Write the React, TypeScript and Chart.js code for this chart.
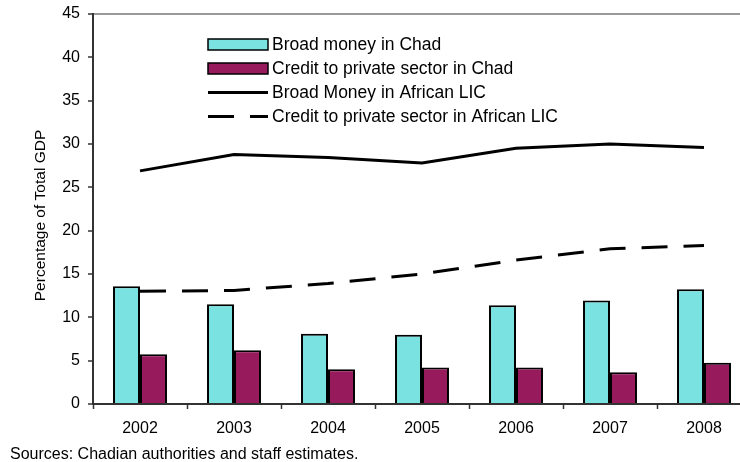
import React, { useEffect, useRef } from "react";
import { Chart, registerables } from "chart.js";

Chart.register(...registerables);

const years = ["2002", "2003", "2004", "2005", "2006", "2007", "2008"];
const broadMoneyChad = [13.6, 11.5, 8.1, 8.0, 11.4, 11.95, 13.25];
const creditChad = [5.75, 6.2, 4.0, 4.2, 4.2, 3.65, 4.75];
const broadMoneyLIC = [26.9, 28.8, 28.45, 27.8, 29.5, 30.0, 29.6];
const creditLIC = [13.0, 13.1, 13.9, 15.0, 16.6, 17.9, 18.3];

const yTicks = [0, 5, 10, 15, 20, 25, 30, 35, 40, 45];
const yAxisTitle = "Percentage of Total GDP";
const sourceNote = "Sources: Chadian authorities and staff estimates.";

const FONT = '"Liberation Sans", Arial, Helvetica, sans-serif';
const CYAN = "#7ae2e0";
const PURPLE = "#961a5c";
const DASH = [26, 16];

// Legend box, y-axis title and source line drawn straight onto the canvas
const overlayPlugin = {
  id: "overlay",
  afterDraw(chart: any) {
    const ctx = chart.ctx as CanvasRenderingContext2D;
    ctx.save();

    // legend inside the plot area
    const lx = 208;
    const lw = 60;
    chart.data.datasets.forEach((ds: any, i: number) => {
      const y = 44.5 + i * 24;
      if (ds.type === "line") {
        ctx.save();
        ctx.beginPath();
        ctx.rect(lx, y - 4, lw, 8);
        ctx.clip();
        ctx.strokeStyle = ds.borderColor;
        ctx.lineWidth = ds.borderWidth;
        ctx.setLineDash(ds.borderDash || []);
        ctx.beginPath();
        ctx.moveTo(lx, y);
        ctx.lineTo(lx + lw + 20, y);
        ctx.stroke();
        ctx.restore();
      } else {
        ctx.fillStyle = ds.backgroundColor;
        ctx.fillRect(lx, y - 5.5, lw, 11);
        ctx.strokeStyle = "#000";
        ctx.lineWidth = 1.5;
        ctx.strokeRect(lx, y - 5.5, lw, 11);
      }
      ctx.fillStyle = "#000";
      ctx.font = `17.5px ${FONT}`;
      ctx.textAlign = "left";
      ctx.textBaseline = "middle";
      ctx.fillText(ds.label, 272, y + 0.5);
    });

    // rotated y-axis title
    ctx.save();
    ctx.translate(41, 215.5);
    ctx.rotate(-Math.PI / 2);
    ctx.font = `15.5px ${FONT}`;
    ctx.fillStyle = "#000";
    ctx.textAlign = "center";
    ctx.textBaseline = "middle";
    ctx.fillText(yAxisTitle, 0, 0);
    ctx.restore();

    // source line
    ctx.font = `16px ${FONT}`;
    ctx.fillStyle = "#000";
    ctx.textAlign = "left";
    ctx.textBaseline = "alphabetic";
    ctx.fillText(sourceNote, 10, 459);

    ctx.restore();
  },
};

export default function App() {
  const canvasRef = useRef<HTMLCanvasElement | null>(null);

  useEffect(() => {
    if (!canvasRef.current) return;
    const chart = new Chart(canvasRef.current, {
      type: "bar",
      data: {
        labels: years,
        datasets: [
          {
            type: "bar",
            label: "Broad money in Chad",
            data: broadMoneyChad,
            backgroundColor: CYAN,
            borderColor: "#000",
            borderWidth: 2,
            categoryPercentage: 0.574,
            barPercentage: 1,
            order: 1,
          },
          {
            type: "bar",
            label: "Credit to private sector in Chad",
            data: creditChad,
            backgroundColor: PURPLE,
            borderColor: "#000",
            borderWidth: 2,
            categoryPercentage: 0.574,
            barPercentage: 1,
            order: 1,
          },
          {
            type: "line",
            label: "Broad Money in African LIC",
            data: broadMoneyLIC,
            borderColor: "#000",
            borderWidth: 3,
            pointRadius: 0,
            fill: false,
            tension: 0,
            order: 0,
          },
          {
            type: "line",
            label: "Credit to private sector in African LIC",
            data: creditLIC,
            borderColor: "#000",
            borderWidth: 3,
            borderDash: DASH,
            pointRadius: 0,
            fill: false,
            tension: 0,
            order: 0,
          },
        ] as any,
      },
      options: {
        responsive: false,
        animation: false,
        devicePixelRatio: 1,
        layout: { padding: { left: 0, right: 9, top: 14, bottom: 0 } },
        plugins: {
          legend: { display: false },
          tooltip: { enabled: false },
          title: { display: false },
        },
        scales: {
          x: {
            offset: true,
            grid: {
              offset: true,
              drawOnChartArea: false,
              color: "rgba(0,0,0,0)",
              tickColor: "#333",
              tickLength: 5,
              tickWidth: 1.5,
            },
            border: { color: "#333", width: 2 },
            ticks: {
              color: "#000",
              font: { family: FONT, size: 16 },
              padding: 10,
              maxRotation: 0,
            },
            afterFit(scale: any) {
              scale.height = 58;
              scale.paddingLeft = 0;
              scale.paddingRight = 0;
            },
          },
          y: {
            min: 0,
            max: 45,
            afterBuildTicks(scale: any) {
              scale.ticks = yTicks.map((v) => ({ value: v }));
            },
            grid: {
              color: (c: any) => (c.tick && c.tick.value === 45 ? "#9a9a9a" : "rgba(0,0,0,0)"),
              lineWidth: 2,
              tickColor: "#333",
              tickLength: 5,
              tickWidth: 1.5,
            },
            border: { color: "#333", width: 2 },
            ticks: {
              color: "#000",
              font: { family: FONT, size: 16 },
              padding: 8,
            },
            afterFit(scale: any) {
              scale.width = 93;
              scale.paddingTop = 0;
              scale.paddingBottom = 0;
            },
          },
        },
      },
      plugins: [overlayPlugin],
    });
    return () => chart.destroy();
  }, []);

  return (
    <div
      style={{
        position: "fixed",
        left: 0,
        top: 0,
        width: 740,
        height: 462,
        overflow: "hidden",
        background: "#fff",
      }}
    >
      <canvas ref={canvasRef} width={760} height={462} style={{ display: "block" }} />
    </div>
  );
}
